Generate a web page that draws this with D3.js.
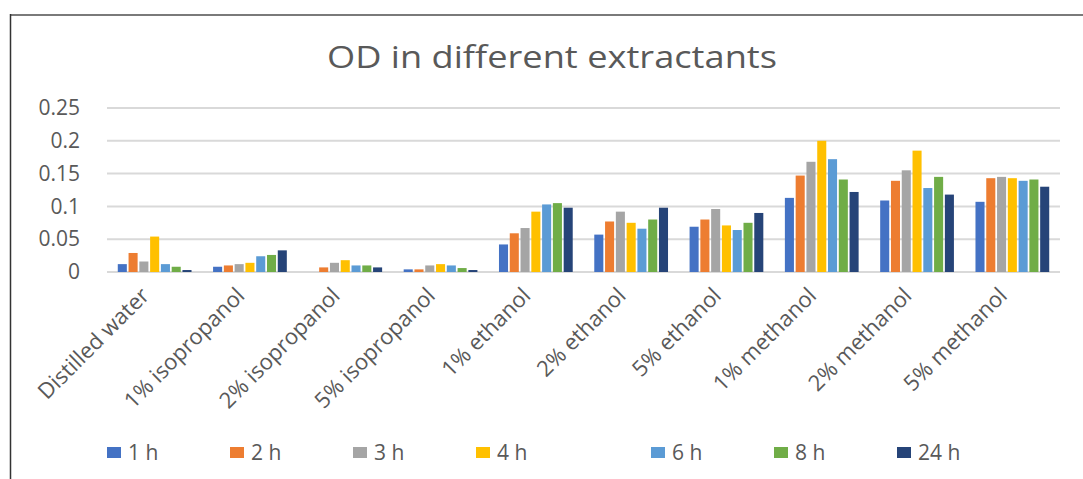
<!DOCTYPE html>
<html>
<head>
<meta charset="utf-8">
<script src="https://cdn.jsdelivr.net/npm/d3@7"></script>
<style>
  body { margin: 0; background: #fff; }
  text { font-family: "Open Sans", "Noto Sans", sans-serif; fill: #595959; }
</style>
</head>
<body>
<div id="chart"></div>
<script>
// categories and series
const categories = ["Distilled water", "1% isopropanol", "2% isopropanol", "5% isopropanol",
  "1% ethanol", "2% ethanol", "5% ethanol", "1% methanol", "2% methanol", "5% methanol"];
const seriesNames = ["1 h", "2 h", "3 h", "4 h", "6 h", "8 h", "24 h"];
const seriesColors = ["#4472C4", "#ED7D31", "#A5A5A5", "#FFC000", "#5B9BD5", "#70AD47", "#264478"];

// values per series, one per category
const h1  = [0.012, 0.008, 0.000, 0.004, 0.042, 0.057, 0.069, 0.113, 0.109, 0.107];
const h2  = [0.029, 0.010, 0.007, 0.004, 0.059, 0.077, 0.080, 0.147, 0.139, 0.143];
const h3  = [0.016, 0.012, 0.014, 0.010, 0.067, 0.092, 0.096, 0.168, 0.155, 0.145];
const h4  = [0.054, 0.014, 0.018, 0.012, 0.092, 0.075, 0.071, 0.200, 0.185, 0.143];
const h6  = [0.012, 0.024, 0.010, 0.010, 0.103, 0.066, 0.064, 0.172, 0.128, 0.139];
const h8  = [0.008, 0.026, 0.010, 0.006, 0.105, 0.080, 0.075, 0.141, 0.145, 0.141];
const h24 = [0.003, 0.033, 0.007, 0.003, 0.098, 0.098, 0.090, 0.122, 0.118, 0.130];
const seriesValues = [h1, h2, h3, h4, h6, h8, h24];

const yTicks = [0, 0.05, 0.1, 0.15, 0.2, 0.25];

const width = 1083, height = 479;

const svg = d3.select("#chart")
  .append("svg")
  .attr("width", width)
  .attr("height", height);

// frame (cropped screenshot border)
svg.append("line")
  .attr("x1", 10).attr("x2", width).attr("y1", 15).attr("y2", 15)
  .attr("stroke", "#7a7a7a").attr("stroke-width", 2);
svg.append("line")
  .attr("x1", 10.5).attr("x2", 10.5).attr("y1", 14).attr("y2", height)
  .attr("stroke", "#333").attr("stroke-width", 1.5);

// title (the original is a bit stretched sideways)
svg.append("text")
  .attr("x", 552).attr("y", 68)
  .attr("text-anchor", "middle")
  .attr("textLength", 450)
  .attr("lengthAdjust", "spacingAndGlyphs")
  .style("font-size", "31px")
  .text("OD in different extractants");

const x0 = d3.scaleBand()
  .domain(categories)
  .range([107, 1060])
  .paddingInner(0.19)
  .paddingOuter(0.095);

const x1 = d3.scaleBand()
  .domain(seriesNames)
  .range([0, x0.bandwidth()])
  .padding(0.16);

const y = d3.scaleLinear()
  .domain([0, 0.25])
  .range([272, 108]);

// gridlines
svg.append("g")
  .selectAll("line")
  .data(yTicks)
  .enter()
  .append("line")
  .attr("x1", 107).attr("x2", 1060)
  .attr("y1", d => y(d)).attr("y2", d => y(d))
  .attr("stroke", "#d9d9d9")
  .attr("stroke-width", 2);

// y axis labels
const yAxis = svg.append("g")
  .attr("transform", "translate(80,0)")
  .call(d3.axisLeft(y).tickValues(yTicks).tickSize(0).tickPadding(0)
    .tickFormat(d => d === 0 ? "0" : String(d)));
yAxis.select(".domain").remove();
yAxis.selectAll("text")
  .style("font-size", "21px")
  .attr("fill", "#595959")
  .style("font-family", "'Open Sans', 'Noto Sans', sans-serif");

// bars
const groups = svg.append("g")
  .selectAll("g")
  .data(categories)
  .enter()
  .append("g")
  .attr("transform", d => `translate(${x0(d)},0)`);

groups.selectAll("rect")
  .data((d, ci) => seriesNames.map((s, si) => ({ s: s, v: seriesValues[si][ci], c: seriesColors[si] })))
  .enter()
  .append("rect")
  .attr("x", d => x1(d.s))
  .attr("width", x1.bandwidth())
  .attr("y", d => y(d.v))
  .attr("height", d => y(0) - y(d.v))
  .attr("fill", d => d.c);

// x axis labels, rotated
const xAxis = svg.append("g")
  .attr("transform", "translate(0,272)")
  .call(d3.axisBottom(x0).tickSize(0).tickPadding(0));
xAxis.select(".domain").remove();
xAxis.selectAll("text")
  .attr("text-anchor", "end")
  .attr("dy", null)
  .attr("y", 0)
  .attr("transform", "translate(-4,25) rotate(-45)")
  .attr("fill", "#595959")
  .style("font-size", "22px")
  .style("font-family", "'Open Sans', 'Noto Sans', sans-serif");

// legend
const legend = svg.append("g")
  .selectAll("g")
  .data(seriesNames)
  .enter()
  .append("g")
  .attr("transform", (d, i) => `translate(${107 + i * 123 + (i >= 4 ? 52 : 0)},447)`);

legend.append("rect")
  .attr("width", 14).attr("height", 11)
  .attr("fill", (d, i) => seriesColors[i]);

legend.append("text")
  .attr("x", 21).attr("y", 13)
  .style("font-size", "21px")
  .text(d => d);
</script>
</body>
</html>
